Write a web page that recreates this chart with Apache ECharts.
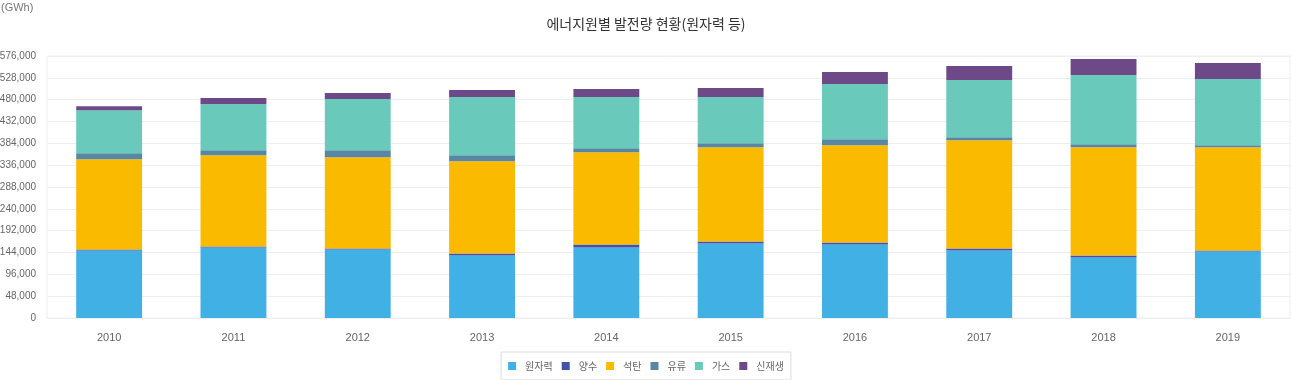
<!DOCTYPE html>
<html>
<head>
<meta charset="utf-8">
<script src="https://cdn.jsdelivr.net/npm/echarts@6/dist/echarts.min.js"></script>
<style>
html,body{margin:0;padding:0;background:#fff;}
#c{width:1292px;height:380px;}
</style>
</head>
<body>
<div id="c"></div>
<script>
var categories = ['2010','2011','2012','2013','2014','2015','2016','2017','2018','2019'];
var seriesNames = ['원자력','양수','석탄','유류','가스','신재생'];
var nuclear = [148400,155000,150600,137400,155000,163800,161600,148400,133000,146200];
var pumped  = [2200,2200,2200,4400,6600,4400,4400,4400,4400,2200];
var coal    = [198400,200600,200600,202800,202800,207200,213800,238000,238000,227000];
var oil     = [13200,11000,15400,13200,8800,8800,13200,6600,6600,4400];
var gas     = [94800,101400,112400,127800,112400,101400,121200,125600,152100,145500];
var renew   = [8800,13200,13200,15400,17600,19800,26400,30900,35300,35300];
var colors  = ['#41b0e4','#4352a8','#f9ba00','#5787a2','#69c9ba','#6d4a87'];
var yMin = 0, yMax = 576000, yInterval = 48000;

var values = [nuclear, pumped, coal, oil, gas, renew];
var sans = "'Liberation Sans',Arial,sans-serif";
var kr = "'Noto Sans CJK KR','Noto Sans',sans-serif";

var chart = echarts.init(document.getElementById('c'));
chart.setOption({
  animation: false,
  backgroundColor: '#fff',
  title: [{
    text: '에너지원별 발전량 현황(원자력 등)',
    left: 'center',
    top: 12,
    textStyle: {fontFamily: kr, fontSize: 14, fontWeight: 'normal', color: '#333'}
  },{
    text: '(GWh)',
    left: 1,
    top: 2,
    padding: 0,
    textStyle: {fontFamily: sans, fontSize: 11, fontWeight: 'normal', color: '#777'}
  }],
  legend: {
    data: seriesNames,
    left: 'center',
    top: 352,
    itemWidth: 8,
    itemHeight: 8,
    itemGap: 9,
    padding: [9, 7, 9, 7],
    borderColor: '#dddddd',
    borderWidth: 1,
    icon: 'rect',
    textStyle: {fontFamily: kr, fontSize: 10, color: '#666', padding: [0,0,0,4]}
  },
  grid: {
    left: 47, right: 2, top: 56, bottom: 62,
    outerBoundsMode: 'none',
    containLabel: false,
    show: true, borderColor: '#eeeeee', borderWidth: 1
  },
  xAxis: {
    type: 'category',
    data: categories,
    axisLine: {show: false},
    axisTick: {show: false},
    axisLabel: {margin: 14, fontFamily: sans, fontSize: 11, color: '#666'}
  },
  yAxis: {
    type: 'value',
    min: yMin, max: yMax, interval: yInterval,
    axisLine: {show: false},
    axisTick: {show: false},
    splitLine: {lineStyle: {color: '#eeeeee'}},
    axisLabel: {
      margin: 11, fontFamily: sans, fontSize: 10, color: '#666',
      formatter: function (v) { return v.toLocaleString('en-US'); }
    }
  },
  series: seriesNames.map(function (n, i) {
    return {
      name: n, type: 'bar', stack: 'total', barWidth: '53%',
      itemStyle: {color: colors[i]},
      data: values[i]
    };
  })
});
</script>
</body>
</html>
